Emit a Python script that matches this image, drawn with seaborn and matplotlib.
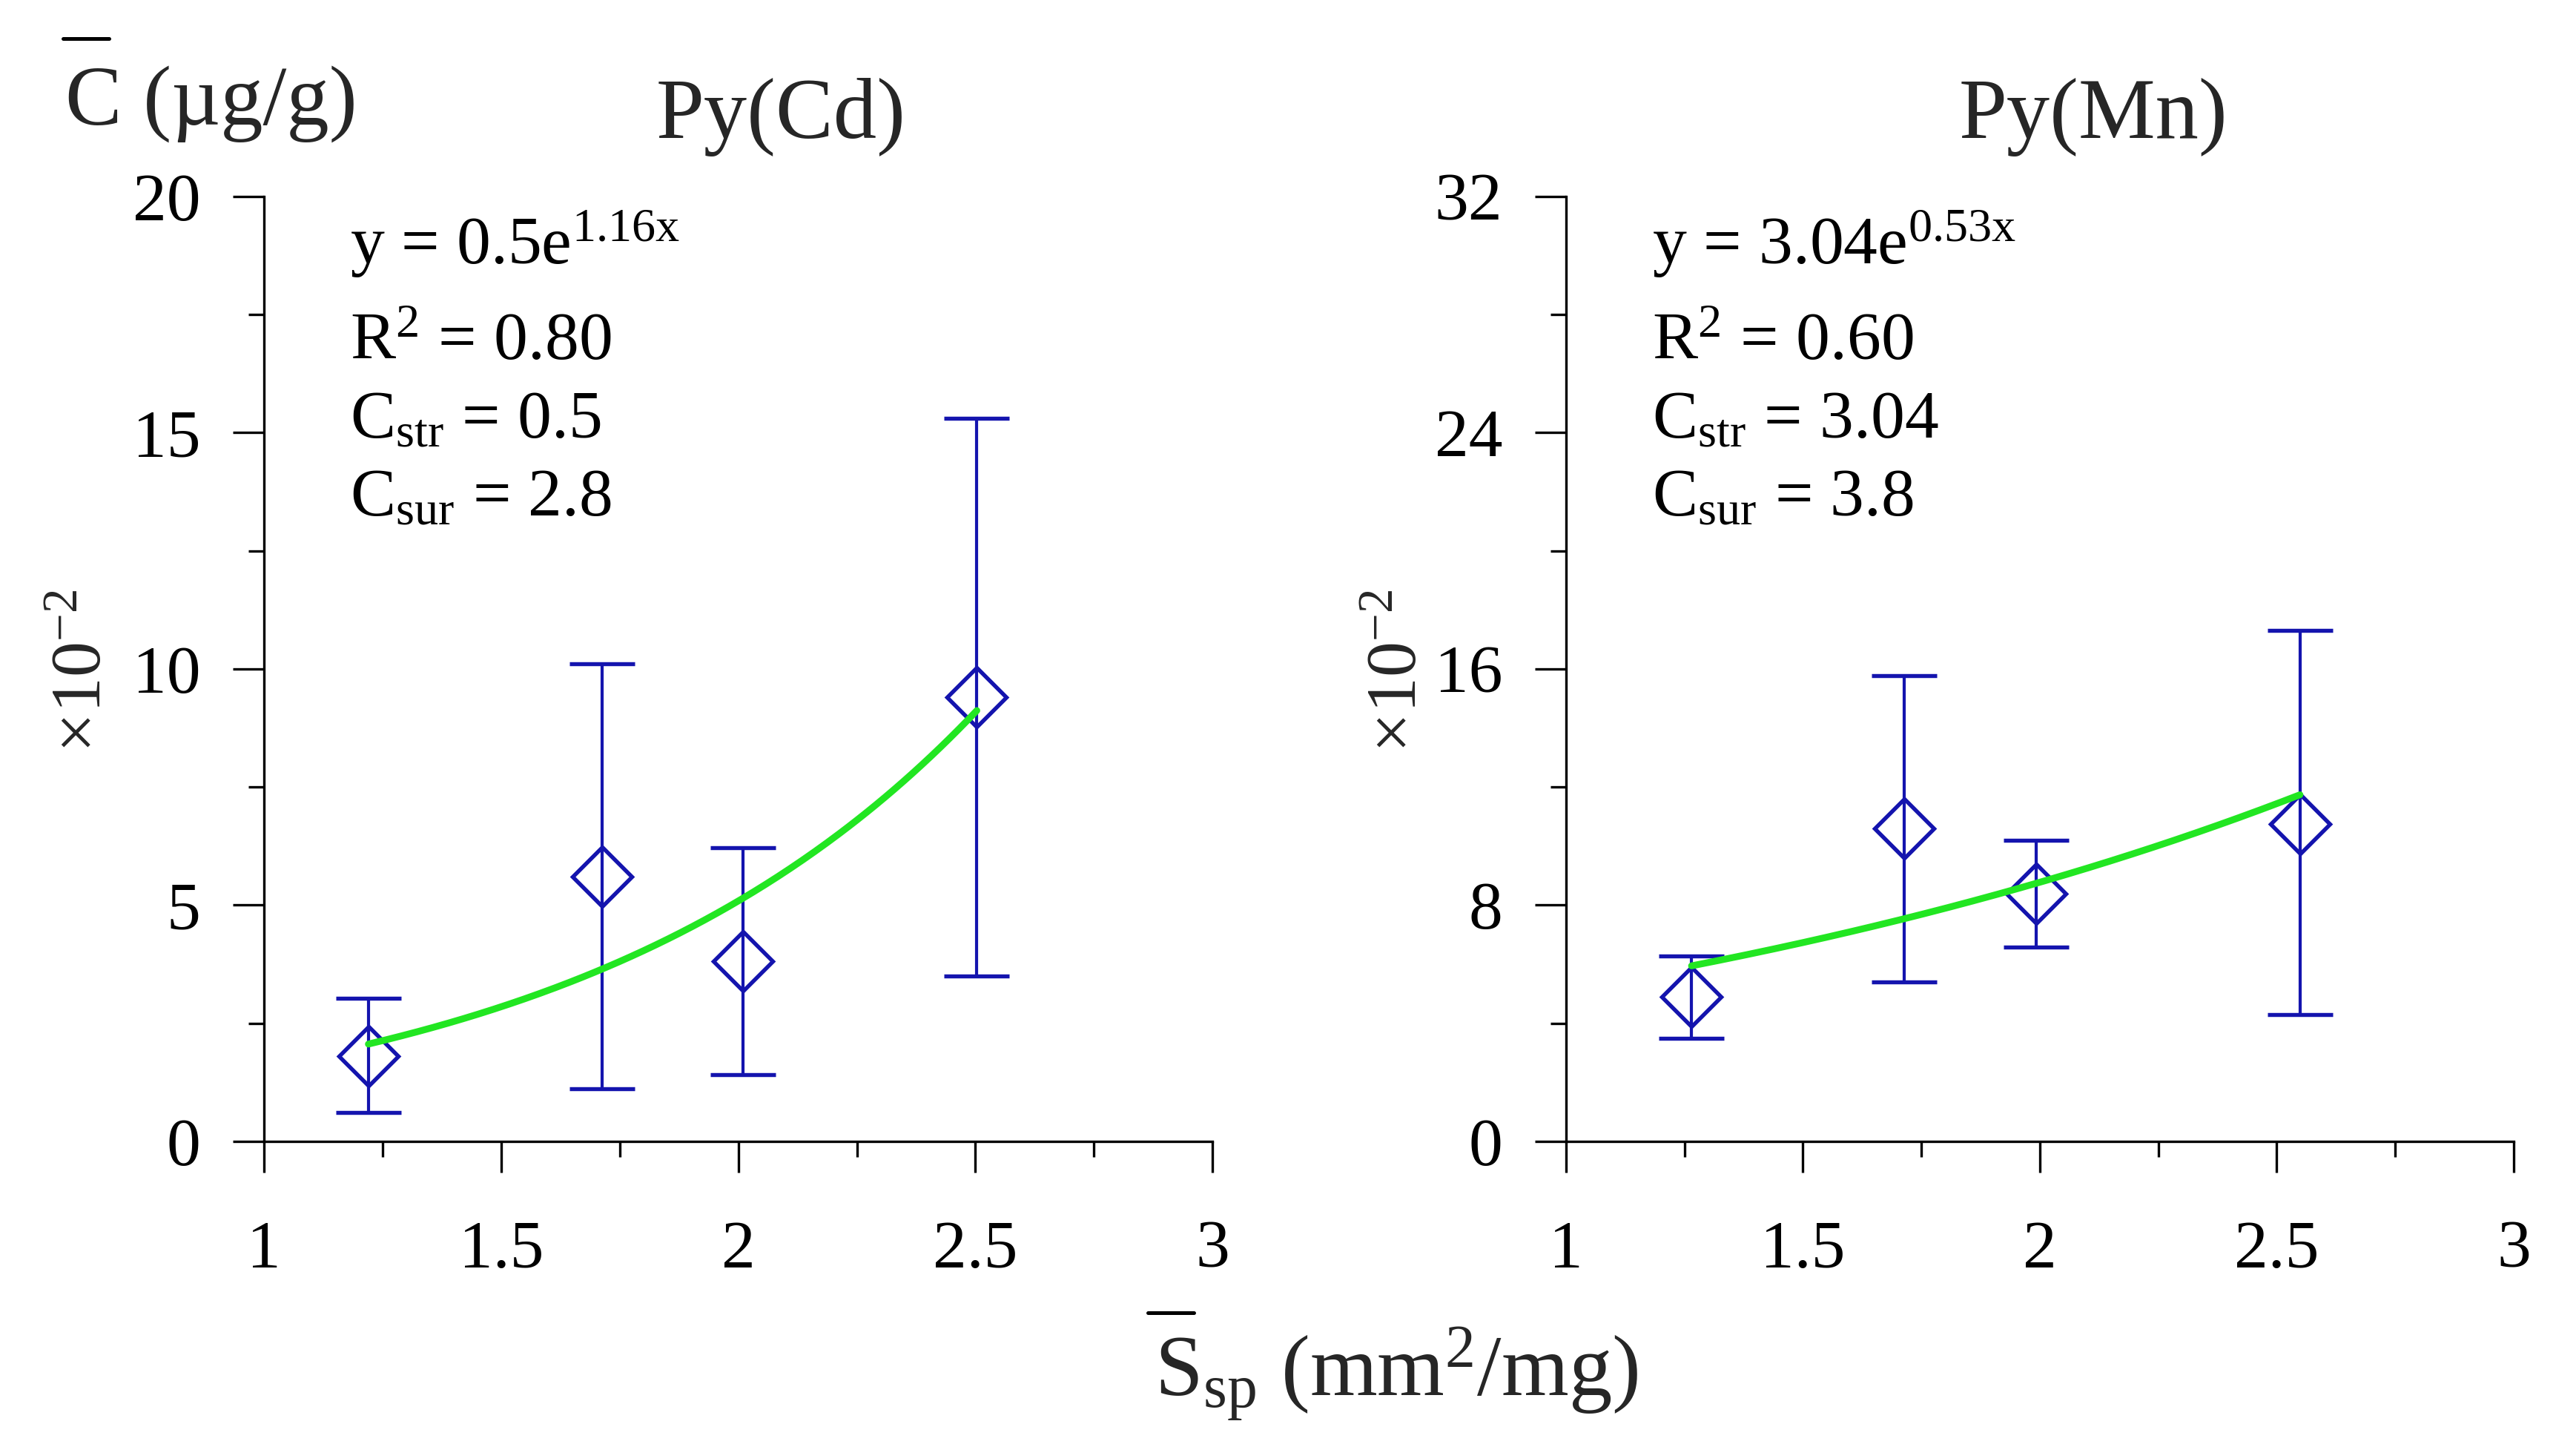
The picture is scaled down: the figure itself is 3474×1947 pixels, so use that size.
import numpy as np
import pandas as pd
import matplotlib
matplotlib.use("Agg")
import matplotlib.pyplot as plt
import seaborn as sns
from matplotlib.lines import Line2D
from matplotlib.ticker import MultipleLocator, FixedLocator, FixedFormatter

# ---------------- data ----------------
cd_x = [1.22, 1.713, 2.01, 2.503]
cd_y = [1.81, 5.61, 3.81, 9.41]
cd_upper = [3.03, 10.11, 6.21, 15.30]
cd_lower = [0.61, 1.11, 1.41, 3.50]
cd_fit_a, cd_fit_b = 0.5, 1.16

mn_x = [1.265, 1.714, 1.992, 2.549]
mn_y = [4.89, 10.59, 8.39, 10.75]
mn_upper = [6.29, 15.78, 10.19, 17.30]
mn_lower = [3.49, 5.39, 6.57, 4.30]
mn_fit_a, mn_fit_b = 3.04, 0.53

x_ticks = [1, 1.5, 2, 2.5, 3]
x_ticklabels = ["1", "1.5", "2", "2.5", "3"]
cd_yticks = [0, 5, 10, 15, 20]
mn_yticks = [0, 8, 16, 24, 32]

titles = ["Py(Cd)", "Py(Mn)"]
cd_notes = [r"y = 0.5e$^{\mathrm{1.16x}}$", r"R$^{\mathrm{2}}$ = 0.80",
            r"C$_{\mathrm{str}}$ = 0.5", r"C$_{\mathrm{sur}}$ = 2.8"]
mn_notes = [r"y = 3.04e$^{\mathrm{0.53x}}$", r"R$^{\mathrm{2}}$ = 0.60",
            r"C$_{\mathrm{str}}$ = 3.04", r"C$_{\mathrm{sur}}$ = 3.8"]

# ---------------- style ----------------
sns.set_theme(style="ticks")
plt.rcParams["font.family"] = ["Liberation Serif", "DejaVu Serif"]
plt.rcParams["mathtext.fontset"] = "custom"
plt.rcParams["mathtext.rm"] = "Liberation Serif"
plt.rcParams["mathtext.it"] = "Liberation Serif:italic"
plt.rcParams["mathtext.bf"] = "Liberation Serif:bold"
plt.rcParams["mathtext.default"] = "rm"

BLUE = "#1414AE"
GREEN = "#22E622"
TICK_FS = 22
NOTE_FS = 22

fig = plt.figure(figsize=(11.58, 6.49), dpi=300)
fig.patch.set_facecolor("white")

ax1 = fig.add_axes([0.1025, 0.2096, 0.3682, 0.6543])
ax2 = fig.add_axes([0.6079, 0.2096, 0.3679, 0.6543])

panels = [
    (ax1, cd_x, cd_y, cd_lower, cd_upper, cd_fit_a, cd_fit_b, cd_yticks, cd_notes),
    (ax2, mn_x, mn_y, mn_lower, mn_upper, mn_fit_a, mn_fit_b, mn_yticks, mn_notes),
]

note_baselines = [0.9286, 0.8273, 0.7449, 0.6625]

for ax, xs, ys, lo, hi, fa, fb, yt, notes in panels:
    ax.set_facecolor("white")
    ys_a = np.array(ys)
    yerr = [ys_a - np.array(lo), np.array(hi) - ys_a]
    ax.errorbar(xs, ys, yerr=yerr, fmt="D", ms=13.5, mfc="none", mec=BLUE,
                mew=1.3, ecolor=BLUE, elinewidth=1.0, capsize=10.5,
                capthick=1.0, zorder=3, clip_on=False)
    # fitted exponential curve from the printed equation
    fx = np.linspace(xs[0], xs[-1], 200)
    fit_df = pd.DataFrame({"x": fx, "y": fa * np.exp(fb * fx)})
    sns.lineplot(data=fit_df, x="x", y="y", ax=ax, color=GREEN, lw=2.2,
                 zorder=4, legend=False)

    ax.set_xlim(1, 3)
    ax.set_ylim(yt[0], yt[-1])
    ax.xaxis.set_major_locator(FixedLocator(x_ticks))
    ax.xaxis.set_major_formatter(FixedFormatter(x_ticklabels))
    ax.xaxis.set_minor_locator(MultipleLocator(0.25))
    ax.yaxis.set_major_locator(FixedLocator(yt))
    ax.yaxis.set_minor_locator(MultipleLocator((yt[1] - yt[0]) / 2))
    ax.set_xlabel("")
    ax.set_ylabel("")

    for s in ["top", "right"]:
        ax.spines[s].set_visible(False)
    for s in ["left", "bottom"]:
        ax.spines[s].set_linewidth(0.8)
        ax.spines[s].set_color("black")

    ax.tick_params(axis="both", which="major", length=10, width=0.8,
                   color="black", direction="out", labelsize=TICK_FS,
                   labelcolor="black")
    ax.tick_params(axis="both", which="minor", length=5, width=0.8,
                   color="black", direction="out")
    ax.tick_params(axis="x", which="major", pad=15.5)
    ax.tick_params(axis="y", which="major", pad=10.5)

    for txt, yb in zip(notes, note_baselines):
        ax.text(0.0907, yb, txt, transform=ax.transAxes, fontsize=NOTE_FS,
                ha="left", va="baseline", color="black")

# titles
fig.text(0.3032, 0.9045, titles[0], fontsize=28, ha="center", va="baseline")
fig.text(0.8125, 0.9045, titles[1], fontsize=28, ha="center", va="baseline")

# y-axis label (top-left) with overbar
fig.text(0.0253, 0.9137, "C (\u00b5g/g)", fontsize=27.5, ha="left", va="baseline")
fig.add_artist(Line2D([85 / 3474, 147 / 3474], [1 - 52 / 1947, 1 - 52 / 1947],
                      color="black", lw=1.2, transform=fig.transFigure))

# x-axis label with overbar
fig.text(0.4482, 0.0334, r"S$_{\mathrm{sp}}$ (mm$^{\mathrm{2}}$/mg)", fontsize=28,
         ha="left", va="baseline")
fig.add_artist(Line2D([1548 / 3474, 1610 / 3474], [1 - 1770 / 1947, 1 - 1770 / 1947],
                      color="black", lw=1.2, transform=fig.transFigure))

# scale factor labels
fig.text(0.0325, 0.5352, r"$\times$10$^{\mathrm{-2}}$", fontsize=23, rotation=90,
         ha="center", va="center")
fig.text(0.5430, 0.5352, r"$\times$10$^{\mathrm{-2}}$", fontsize=23, rotation=90,
         ha="center", va="center")

fig.savefig("out.png", dpi=300, facecolor="white")
